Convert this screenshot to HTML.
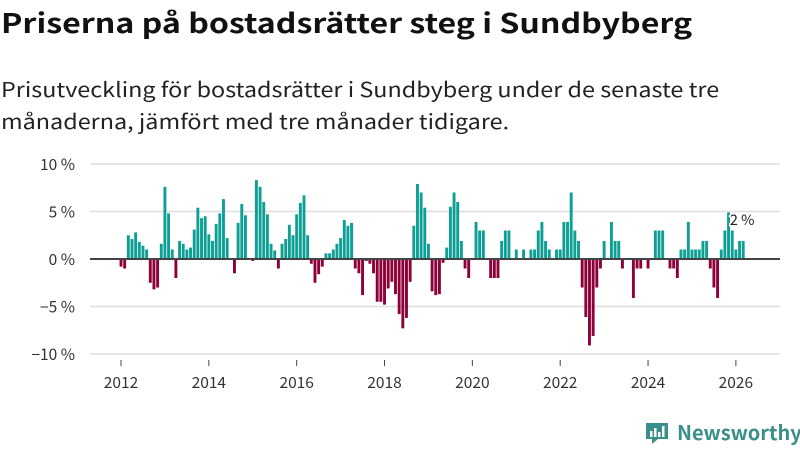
<!DOCTYPE html>
<html><head><meta charset="utf-8"><style>
body{margin:0;width:800px;height:450px;background:#fff;font-family:"Liberation Sans","Noto Sans CJK JP",sans-serif;overflow:hidden;position:relative}
h1{position:absolute;left:1px;top:0px;margin:0;font-family:"Noto Sans CJK JP",sans-serif;font-size:27px;line-height:44px;font-weight:bold;color:#111;white-space:nowrap;transform:scaleX(1.19);transform-origin:0 0}
p{position:absolute;left:1px;top:72px;margin:0;font-family:"Noto Sans CJK JP",sans-serif;font-size:20.5px;line-height:32px;color:#222;white-space:nowrap;transform:scaleX(1.14);transform-origin:0 0}
svg{position:absolute;left:0;top:0}
.logo{position:absolute;left:644px;top:419px;font-family:"Noto Sans CJK JP",sans-serif;font-size:20px;line-height:26px;font-weight:bold;color:#3a8f8a}
</style></head><body>
<h1>Priserna på bostadsrätter steg i Sundbyberg</h1>
<p>Prisutveckling för bostadsrätter i Sundbyberg under de senaste tre<br>månaderna, jämfört med tre månader tidigare.</p>
<svg id="chart" width="800" height="450"></svg>
<div class="logo"><svg width="26" height="24" style="position:absolute;left:0;top:2px"><path d="M2 2h22v16h-10l-6 5v-5h-6z" fill="#3a8f8a"/><rect x="6" y="10" width="2.5" height="6" fill="#fff"/><rect x="10" y="7" width="2.5" height="9" fill="#fff"/><rect x="14" y="11" width="2.5" height="5" fill="#fff"/><rect x="18" y="5" width="2.5" height="11" fill="#fff"/></svg><span style="margin-left:33px">Newsworthy</span></div>
<script>
const startYear = 2012;
const values = [-0.8,-1.0,2.5,2.1,2.8,1.8,1.4,1.0,-2.5,-3.2,-3.0,1.6,7.6,4.8,1.0,-2.0,1.9,1.6,1.0,1.2,3.1,5.4,4.3,4.5,2.6,1.9,3.7,4.8,6.3,2.2,0,-1.5,3.8,5.8,4.6,0,-0.2,8.3,7.6,6.0,4.7,1.6,0.9,-1.0,1.6,2.1,3.6,2.5,4.7,
5.9,6.7,2.5,-0.5,-2.5,-1.6,-0.8,0.6,0.6,1.0,1.6,2.2,4.1,3.5,3.8,-1.0,-1.5,-3.8,-0.2,-0.5,-1.5,-4.5,-4.5,-4.8,-3.1,-2.4,-3.7,-5.8,-7.3,-6.2,-2.4,3.5,7.9,7.0,5.4,1.6,-3.4,-3.8,-3.7,-0.4,1.2,5.5,7.0,6.0,1.9,-1.0,-2.0,0,3.9,3.0,3.0,0,-2.0,-2.0,-2.0,1.9,3.0,3.0,0,1.0,
0,1.0,0,1.0,1.0,3.0,3.9,1.9,1.0,0,1.0,1.0,3.9,3.9,7.0,3.0,1.9,-3.0,-6.1,-9.1,-8.1,-3.0,-1.0,1.9,0,3.9,1.9,1.9,-1.0,0,0,-4.1,-1.0,-1.0,0,-1.0,0,3.0,3.0,3.0,0,-1.0,-1.0,-2.0,1.0,1.0,3.9,1.0,1.0,1.0,1.9,1.9,-1.0,-3.0,-4.1,1.0,3.0,4.9,3.0,1.0,1.9,1.9];
const yTicks = [10,5,0,-5,-10];
const yTickLabels = ["10 %","5 %","0 %","−5 %","−10 %"];
const xTickYears = [2012,2014,2016,2018,2020,2022,2024,2026];
const lastLabel = "2 %";

const NS="http://www.w3.org/2000/svg";
const svg=document.getElementById('chart');
const step=3.66;
const xScale=i=>121+i*step;
const yearX=y=>xScale((y-startYear)*12);
const yScale=v=>259-v*9.5;
const FONT='Noto Sans CJK JP, sans-serif';
function mk(t,a){const e=document.createElementNS(NS,t);for(const k in a)e.setAttribute(k,a[k]);svg.appendChild(e);return e;}
yTicks.forEach((t,k)=>{
  if(t!==0){const g=mk('line',{x1:90,x2:780,y1:yScale(t),y2:yScale(t),stroke:'#dedede','stroke-width':1.5});
  
  }
  const l=mk('text',{x:75,y:yScale(t)+6,'text-anchor':'end','font-size':15.5,fill:'#333','font-family':FONT});
  l.textContent=yTickLabels[k];
  
  
});
values.forEach((v,i)=>{
  if(v===0)return;
  const x=xScale(i),y0=yScale(0),y1=yScale(v);
  const r=mk('rect',{x:x-1.45,y:Math.min(y0,y1),width:2.9,height:Math.abs(y1-y0),fill:v>0?'#0e9f94':'#8e0038'});
  
  
});
const z=mk('line',{x1:90,x2:780,y1:yScale(0),y2:yScale(0),stroke:'#444','stroke-width':2});


xTickYears.forEach(y=>{
  const tk=mk('line',{x1:yearX(y),x2:yearX(y),y1:360,y2:366,stroke:'#444','stroke-width':1});
  
  
  const t=mk('text',{x:yearX(y),y:388,'text-anchor':'middle','font-size':15.5,fill:'#333','font-family':FONT});
  t.textContent=y;
  
  
});
const li=values.length-1;
const lab=mk('text',{x:xScale(li)-1,y:yScale(values[li])-16,'text-anchor':'middle','font-size':14.5,fill:'#222',stroke:'#fff','stroke-width':3,'paint-order':'stroke','font-family':FONT});
lab.textContent=lastLabel;


</script>
</body></html>
